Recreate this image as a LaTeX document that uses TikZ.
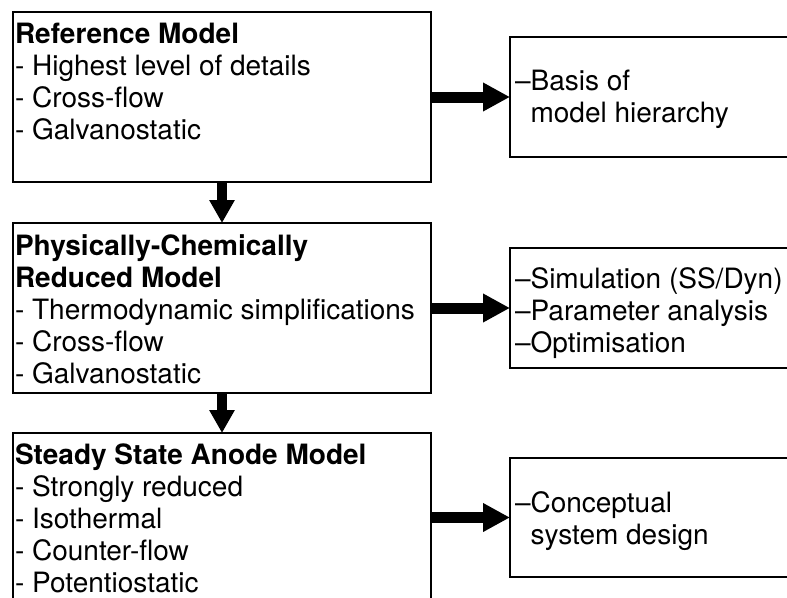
\documentclass[tikz,border=0pt]{standalone}
\usepackage{fontspec}
\setmainfont{TeX Gyre Heros}
\usetikzlibrary{arrows.meta}
\begin{document}
\begin{tikzpicture}[x=1pt,y=-1pt,
  box/.style={draw, line width=1.8pt, inner sep=0pt, outer sep=0pt, anchor=north west, minimum width=418pt},
  rbox/.style={draw, line width=1.8pt, inner sep=0pt, outer sep=0pt, anchor=north west, minimum width=320pt},
  txt/.style={inner sep=0pt, outer sep=0pt, anchor=base west, align=left, font=\fontsize{28}{32}\selectfont},
  harrow/.style={line width=11pt, -{Triangle[length=27pt,width=27pt]}},
  varrow/.style={line width=10pt, -{Triangle[length=23pt,width=24pt]}}
]
\useasboundingbox (0,0) rectangle (787,597);
\clip (0,0) rectangle (787,597);
% left boxes
\node[box, minimum height=170pt] (b1) at (13,12) {};
\node[box, minimum height=170pt] (b2) at (13,223) {};
\node[box, minimum height=190pt] (b3) at (13,433) {};
% right boxes
\node[rbox, minimum height=120pt] (r1) at (510,37) {};
\node[rbox, minimum height=120pt] (r2) at (510,248) {};
\node[rbox, minimum height=119pt] (r3) at (510,458) {};
% texts (anchored at the baseline of their last line)
\node[txt] (t1) at (15,139) {\textbf{Reference Model}\\- Highest level of details\\- Cross-flow\\- Galvanostatic};
\node[txt] (t2) at (15,383) {\textbf{Physically-Chemically}\\\textbf{Reduced Model}\\- Thermodynamic simplifications\\- Cross-flow\\- Galvanostatic};
\node[txt] (t3) at (15,592) {\textbf{Steady State Anode Model}\\- Strongly reduced\\- Isothermal\\- Counter-flow\\- Potentiostatic};
\node[txt] (u1) at (515,122) {–Basis of\\\phantom{–}model hierarchy};
\node[txt] (u2) at (515,352) {–Simulation (SS/Dyn)\\–Parameter analysis\\–Optimisation};
\node[txt] (u3) at (515,544) {–Conceptual\\\phantom{–}system design};
% arrows
\draw[harrow] (b1.east |- r1.west) -- (r1.west);
\draw[harrow] (b2.east |- r2.west) -- (r2.west);
\draw[harrow] (b3.east |- r3.west) -- (r3.west);
\draw[varrow] (b1.south) -- (b2.north);
\draw[varrow] (b2.south) -- (b3.north);
\end{tikzpicture}
\end{document}
